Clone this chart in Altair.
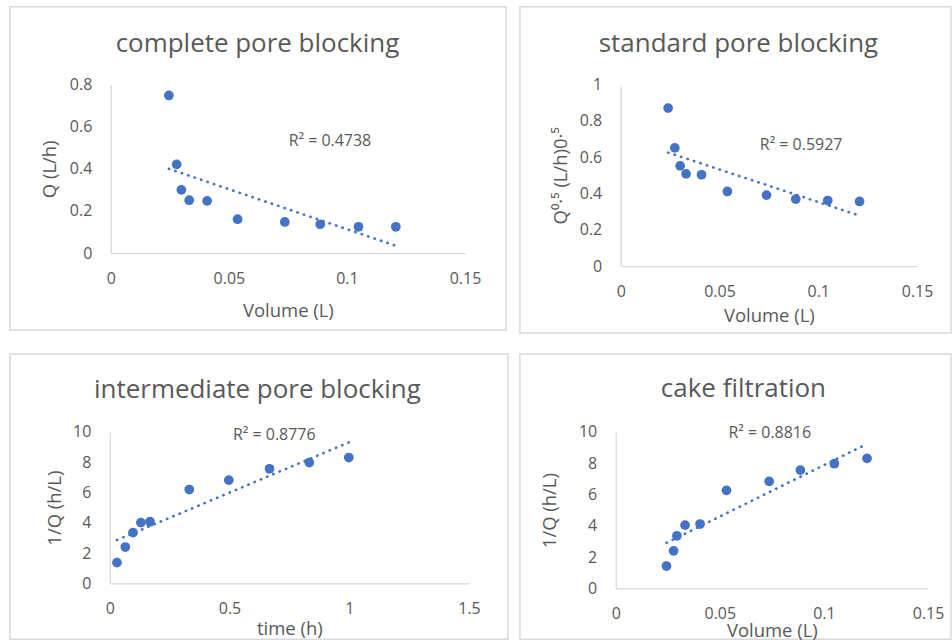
import altair as alt
import pandas as pd

FONT = "Open Sans"
BLUE = "#4472C4"
TEXT = "#595959"
BORDER = "#d9d9d9"

# ---------------- data ----------------
# complete pore blocking
p1_volume = [0.0246, 0.0279, 0.0299, 0.0332, 0.0408, 0.0537, 0.0737, 0.0887, 0.1049, 0.1207]
p1_q = [0.748, 0.421, 0.300, 0.251, 0.248, 0.161, 0.148, 0.137, 0.125, 0.125]
# standard pore blocking
p2_volume = [0.0240, 0.0274, 0.0301, 0.0331, 0.0409, 0.0540, 0.0738, 0.0886, 0.1048, 0.1209]
p2_sqrtq = [0.870, 0.651, 0.552, 0.508, 0.503, 0.411, 0.391, 0.369, 0.361, 0.356]
# intermediate pore blocking
p3_time = [0.030, 0.065, 0.097, 0.130, 0.168, 0.332, 0.497, 0.667, 0.833, 0.998]
p3_invq = [1.37, 2.40, 3.35, 4.01, 4.07, 6.19, 6.81, 7.56, 7.97, 8.30]
# cake filtration
p4_volume = [0.0244, 0.0278, 0.0294, 0.0333, 0.0405, 0.0532, 0.0737, 0.0887, 0.1050, 0.1207]
p4_invq = [1.43, 2.40, 3.36, 4.04, 4.11, 6.26, 6.83, 7.55, 7.96, 8.30]

titles = ["complete pore blocking", "standard pore blocking",
          "intermediate pore blocking", "cake filtration"]
x_titles = ["Volume (L)", "Volume (L)", "time (h)", "Volume (L)"]
y_titles = ["Q (L/h)", "Q⁰·⁵ (L/h)0·⁵", "1/Q (h/L)", "1/Q (h/L)"]
r2_labels = ["R² = 0.4738", "R² = 0.5927", "R² = 0.8776", "R² = 0.8816"]
# R² label anchors in data units
r2_x = [0.0928, 0.0913, 0.687, 0.0740]
r2_y = [0.530, 0.665, 9.76, 9.94]

vol_ticks = [0, 0.05, 0.1, 0.15]
time_ticks = [0, 0.5, 1, 1.5]
q_ticks = [0, 0.2, 0.4, 0.6, 0.8]
sq_ticks = [0, 0.2, 0.4, 0.6, 0.8, 1]
inv_ticks = [0, 2, 4, 6, 8, 10]

LABEL_EXPR = "datum.value + ''"


def panel(xs, ys, idx, xticks, yticks, W, H, xr, yr, tx, ty, ytitle_x, xtitle_y):
    df = pd.DataFrame({"x": xs, "y": ys})
    lab = pd.DataFrame({"x": [r2_x[idx]], "y": [r2_y[idx]],
                        "t": [r2_labels[idx]], "title": [titles[idx]]})
    xscale = alt.Scale(domain=[xticks[0], xticks[-1]], range=xr, nice=False, zero=False)
    yscale = alt.Scale(domain=[yticks[0], yticks[-1]], range=yr, nice=False, zero=False)
    xaxis = alt.Axis(title=x_titles[idx], values=xticks, labelExpr=LABEL_EXPR,
                     offset=-(H - yr[0]), labelPadding=25, labelBaseline="middle",
                     titleY=xtitle_y, titleBaseline="middle",
                     labelFlush=False, labelOverlap=False)
    yaxis = alt.Axis(title=y_titles[idx], values=yticks, labelExpr=LABEL_EXPR,
                     offset=-xr[0], labelPadding=19,
                     titleX=ytitle_x, titleBaseline="middle", titleAngle=270,
                     labelFlush=False, labelOverlap=False)
    X = alt.X("x:Q", scale=xscale, axis=xaxis)
    Y = alt.Y("y:Q", scale=yscale, axis=yaxis)

    pts = alt.Chart(df).mark_circle(size=95, color=BLUE, opacity=1).encode(x=X, y=Y)
    trend = (alt.Chart(df).transform_regression("x", "y")
             .mark_line(color=BLUE, strokeWidth=2.6, strokeDash=[0.4, 6.4], strokeCap="round")
             .encode(x=X, y=Y))
    r2 = alt.Chart(lab).mark_text(font=FONT, fontSize=16, color=TEXT).encode(
        x=X, y=Y, text="t:N")
    ttl = alt.Chart(lab).mark_text(font=FONT, fontSize=26, color=TEXT,
                                   align="center", baseline="alphabetic").encode(
        x=alt.value(tx), y=alt.value(ty), text="title:N")
    return alt.layer(trend, pts, r2, ttl).properties(width=W, height=H)


c1 = panel(p1_volume, p1_q, 0, vol_ticks, q_ticks, 497, 324,
           [101, 456], [247, 78], 248, 45, -61, 57)
c2 = panel(p2_volume, p2_sqrtq, 1, vol_ticks, sq_ticks, 432, 327,
           [101, 398], [260, 78], 219, 45, -60, 50)
c3 = panel(p3_time, p3_invq, 2, time_ticks, inv_ticks, 499, 286,
           [100, 460], [230, 78], 248, 44, -55, 45)
c4 = panel(p4_volume, p4_invq, 3, vol_ticks, inv_ticks, 432, 286,
           [96, 409], [235, 78], 224, 43, -66, 42)

row1 = alt.hconcat(c1, c2, spacing=12)
row2 = alt.hconcat(c3, c4, spacing=10)

chart = (alt.vconcat(row1, row2, spacing=19)
         .properties(padding={"left": 9, "top": 5, "right": 0, "bottom": 0},
                     background="white")
         .configure_view(stroke=BORDER, strokeWidth=1.5)
         .configure_axis(grid=False, ticks=False, tickSize=0,
                         domainColor=BORDER, domainWidth=1.3,
                         labelFont=FONT, labelFontSize=16, labelColor=TEXT,
                         titleFont=FONT, titleFontSize=18.5, titleColor=TEXT,
                         titleFontWeight="normal"))

chart.save("out.html", embed_options={"renderer": "svg", "actions": False})
